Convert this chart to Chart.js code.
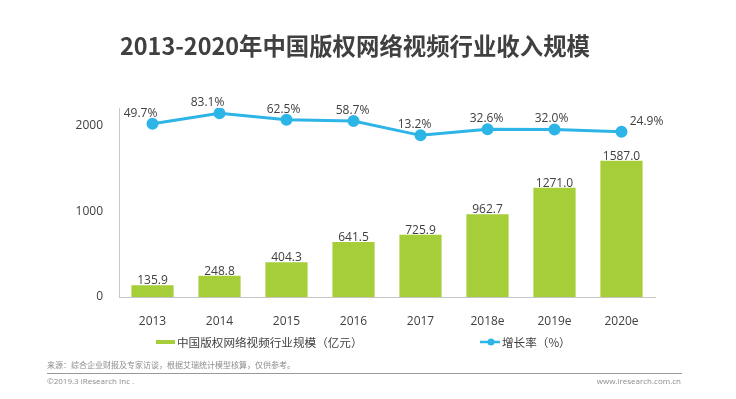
<!DOCTYPE html>
<html>
<head>
<meta charset="utf-8">
<script src="https://cdn.jsdelivr.net/npm/chart.js@4.4.1/dist/chart.umd.min.js"></script>
<style>
  html, body { margin: 0; padding: 0; background: #fff; }
  #wrap { position: relative; width: 736px; height: 399px; overflow: hidden; }
  #chart { position: absolute; left: 0; top: 0; }
  .txt { position: absolute; white-space: nowrap; font-family: "Noto Sans CJK SC", "Open Sans", sans-serif; }
  #title { left: 120px; top: 31px; font-size: 23.4px; line-height: 28px; font-weight: bold; color: #404040; }
  .leg { font-size: 11.6px; line-height: 14px; color: #404040; top: 335px; }
  #src { left: 47px; top: 360px; font-size: 8px; line-height: 10px; color: #8c8c8c; }
  #copy { left: 47px; top: 376px; font-size: 8px; line-height: 10px; color: #8c8c8c; font-family: "Open Sans", sans-serif; }
  #web { right: 55px; top: 376px; font-size: 8px; line-height: 10px; color: #8c8c8c; font-family: "Open Sans", sans-serif; }
  #rule { position: absolute; left: 47px; top: 373px; width: 635px; height: 1px; background: #9a9a9a; }
</style>
</head>
<body>
<div id="wrap">
  <canvas id="chart" width="736" height="399"></canvas>
  <div class="txt" id="title">2013-2020年中国版权网络视频行业收入规模</div>
  <div class="txt leg" id="leg1" style="left:177px">中国版权网络视频行业规模（亿元）</div>
  <div class="txt leg" id="leg2" style="left:502px">增长率（%）</div>
  <div class="txt" id="src">来源：综合企业财报及专家访谈，根据艾瑞统计模型核算，仅供参考。</div>
  <div id="rule"></div>
  <div class="txt" id="copy">©2019.3 iResearch Inc .</div>
  <div class="txt" id="web">www.iresearch.com.cn</div>
</div>
<script>
'use strict';
const years = ['2013', '2014', '2015', '2016', '2017', '2018e', '2019e', '2020e'];
const revenue = [135.9, 248.8, 404.3, 641.5, 725.9, 962.7, 1271.0, 1587.0];
const growth = [49.7, 83.1, 62.5, 58.7, 13.2, 32.6, 32.0, 24.9];
const yTicks = [0, 1000, 2000];

const green = '#a6ce39';
const blue = '#2cb5e6';
// sideways nudge of each growth label, as in the original layout
const pctShift = [-12, -12, -3, -1, -6, -1, -3, 25];

// small legend swatches drawn on the same canvas
const legendMarks = {
  id: 'legendMarks',
  afterDraw(chart) {
    const ctx = chart.ctx;
    ctx.save();
    ctx.fillStyle = green;
    ctx.fillRect(156, 340, 19, 4);
    ctx.strokeStyle = blue;
    ctx.lineWidth = 2.5;
    ctx.beginPath();
    ctx.moveTo(480, 342);
    ctx.lineTo(500, 342);
    ctx.stroke();
    ctx.fillStyle = blue;
    ctx.beginPath();
    ctx.arc(491, 342, 3.5, 0, Math.PI * 2);
    ctx.fill();
    ctx.restore();
  }
};

const valueLabels = {
  id: 'valueLabels',
  afterDatasetsDraw(chart) {
    const ctx = chart.ctx;
    ctx.save();
    ctx.font = '12px "Open Sans", sans-serif';
    ctx.fillStyle = '#404040';
    ctx.textAlign = 'center';
    ctx.textBaseline = 'alphabetic';
    chart.getDatasetMeta(1).data.forEach((bar, i) => {
      ctx.fillText(revenue[i].toFixed(1), bar.x, bar.y - 1);
    });
    chart.getDatasetMeta(0).data.forEach((pt, i) => {
      ctx.fillText(growth[i].toFixed(1) + '%', pt.x + pctShift[i], pt.y - 7);
    });
    ctx.restore();
  }
};

new Chart(document.getElementById('chart'), {
  data: {
    labels: years,
    datasets: [
      {
        type: 'line',
        label: '增长率（%）',
        data: growth,
        yAxisID: 'y1',
        borderColor: blue,
        backgroundColor: blue,
        borderWidth: 3,
        pointRadius: 4.5,
        pointHoverRadius: 4.5,
        tension: 0,
        order: 0
      },
      {
        type: 'bar',
        label: '中国版权网络视频行业规模（亿元）',
        data: revenue,
        yAxisID: 'y',
        backgroundColor: green,
        categoryPercentage: 1,
        barPercentage: 0.63,
        order: 1
      }
    ]
  },
  options: {
    responsive: false,
    animation: false,
    layout: { padding: { left: 0, right: 81, top: 108, bottom: 72 } },
    plugins: { legend: { display: false }, tooltip: { enabled: false } },
    scales: {
      x: {
        grid: { display: false },
        border: { display: true, color: '#c6c6c6', width: 1 },
        ticks: { color: '#404040', font: { family: 'Open Sans', size: 12 }, padding: 9 },
        afterFit(scale) { scale.height = 30; }
      },
      y: {
        min: 0,
        max: 2200,
        grid: { display: false, drawTicks: false },
        border: { display: true, color: '#c6c6c6', width: 1 },
        ticks: {
          color: '#404040',
          font: { family: 'Open Sans', size: 12 },
          padding: 16,
          callback: v => String(v)
        },
        afterBuildTicks(scale) { scale.ticks = yTicks.map(v => ({ value: v })); },
        afterFit(scale) { scale.width = 119; }
      },
      y1: {
        display: false,
        min: -500,
        max: 100
      }
    }
  },
  plugins: [valueLabels, legendMarks]
});
</script>
</body>
</html>
